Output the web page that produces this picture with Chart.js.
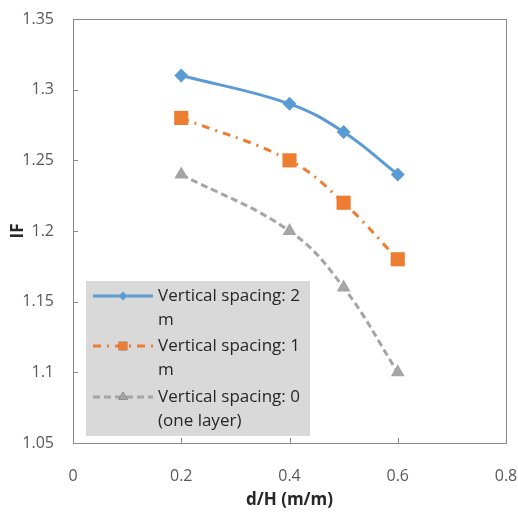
<!DOCTYPE html>
<html>
<head>
<meta charset="utf-8">
<script src="https://cdn.jsdelivr.net/npm/chart.js@4"></script>
<style>
  html,body{margin:0;padding:0;background:#fff;}
  #wrap{width:518px;height:514px;position:relative;}
</style>
</head>
<body>
<div id="wrap"><canvas id="c" width="518" height="514"></canvas></div>
<script>
// data
const xVals = [0.2, 0.4, 0.5, 0.6];
const spacing2 = [1.31, 1.29, 1.27, 1.24];
const spacing1 = [1.28, 1.25, 1.22, 1.18];
const spacing0 = [1.24, 1.20, 1.16, 1.10];
const seriesNames = ['Vertical spacing: 2 m', 'Vertical spacing: 1 m', 'Vertical spacing: 0 (one layer)'];
const xTicks = [0, 0.2, 0.4, 0.6, 0.8];
const yTicks = [1.05, 1.1, 1.15, 1.2, 1.25, 1.3, 1.35];

const pts = ys => xVals.map((x,i)=>({x, y: ys[i]}));
const FONT = "'Open Sans', sans-serif";
const AXIS = '#898989';

// frame + inward tick marks (Excel style)
const framePlugin = {
  id:'frame',
  beforeDatasetsDraw(chart){
    const {ctx, chartArea:a, scales:{x, y}} = chart;
    ctx.save();
    ctx.strokeStyle = AXIS; ctx.lineWidth = 1;
    ctx.strokeRect(Math.round(a.left)+0.5, Math.round(a.top)+0.5, Math.round(a.right-a.left), Math.round(a.bottom-a.top));
    ctx.beginPath();
    yTicks.slice(1,-1).forEach(v=>{ const p = Math.round(y.getPixelForValue(v))+0.5; ctx.moveTo(a.left, p); ctx.lineTo(a.left+5, p); });
    xTicks.slice(1,-1).forEach(v=>{ const p = Math.round(x.getPixelForValue(v))+0.5; ctx.moveTo(p, a.bottom); ctx.lineTo(p, a.bottom-5); });
    ctx.stroke();
    ctx.restore();
  }
};

// legend box inside the plot, text wrapped like Excel
const legendPlugin = {
  id:'boxLegend',
  afterDatasetsDraw(chart){
    const ctx = chart.ctx;
    const box = {x:86, y:281, w:224, h:155};
    ctx.save();
    ctx.fillStyle = '#d9d9d9';
    ctx.fillRect(box.x, box.y, box.w, box.h);
    ctx.font = '17px ' + FONT;
    ctx.textBaseline = 'middle';
    const tx = 158, maxW = box.x + box.w - tx - 3, lh = 24.5;
    const rows = [296, 346, 397];
    const markR = [4.5, 6, 5.5];
    chart.data.datasets.forEach((ds, i)=>{
      const cy = rows[i];
      ctx.strokeStyle = ds.borderColor; ctx.lineWidth = ds.borderWidth;
      ctx.setLineDash(ds.borderDash || []);
      ctx.beginPath(); ctx.moveTo(93, cy); ctx.lineTo(153, cy); ctx.stroke();
      ctx.setLineDash([]);
      Chart.helpers.drawPoint(ctx, {pointStyle: ds.pointStyle, radius: markR[i], borderWidth: 0}, 123, cy);
      ctx.fillStyle = ds.pointBackgroundColor; ctx.fill();
      // word wrap
      const words = seriesNames[i].split(' ');
      let line = '', lines = [];
      words.forEach(w=>{
        const t = line ? line + ' ' + w : w;
        if (ctx.measureText(t).width > maxW && line) { lines.push(line); line = w; } else line = t;
      });
      lines.push(line);
      ctx.fillStyle = '#262626';
      lines.forEach((l, k)=> ctx.fillText(l, tx, cy + k*lh));
    });
    ctx.restore();
  }
};

const noPad = s => { s.paddingLeft = 0; s.paddingRight = 0; s.paddingTop = 0; s.paddingBottom = 0; };

new Chart(document.getElementById('c'), {
  type:'line',
  data:{
    datasets:[
      {label:seriesNames[0], data:pts(spacing2), borderColor:'#5b9bd5', backgroundColor:'#5b9bd5',
       pointBackgroundColor:'#5b9bd5', borderWidth:3, pointStyle:'rectRot', pointRadius:7, pointBorderWidth:0, tension:0.4},
      {label:seriesNames[1], data:pts(spacing1), borderColor:'#ed7d31', backgroundColor:'#ed7d31',
       pointBackgroundColor:'#ed7d31', borderWidth:3, borderDash:[8,6,2,6], pointStyle:'rect', pointRadius:10, pointBorderWidth:0, tension:0.4},
      {label:seriesNames[2], data:pts(spacing0), borderColor:'#a5a5a5', backgroundColor:'#a5a5a5',
       pointBackgroundColor:'#a5a5a5', borderWidth:3, borderDash:[7,4], pointStyle:'triangle', pointRadius:8, pointBorderWidth:0, tension:0.4}
    ]
  },
  options:{
    responsive:false, animation:false,
    layout:{padding:{left:0, top:19, right:12, bottom:0}},
    plugins:{legend:{display:false}, tooltip:{enabled:false}},
    scales:{
      x:{type:'linear', min:0, max:0.8,
         afterBuildTicks: s=>{ s.ticks = xTicks.map(v=>({value:v})); },
         afterFit: s=>{ s.height = 71; noPad(s); },
         grid:{display:false, drawTicks:false}, border:{display:false},
         ticks:{padding:24, color:'#595959', font:{family:FONT, size:16}, callback:v=>String(+v.toFixed(2))},
         title:{display:true, text:'d/H (m/m)', color:'#262626', font:{family:FONT, size:17, weight:'bold'}, padding:{bottom:4}}},
      y:{min:1.05, max:1.35,
         afterBuildTicks: s=>{ s.ticks = yTicks.map(v=>({value:v})); },
         afterFit: s=>{ s.width = 73; noPad(s); },
         grid:{display:false, drawTicks:false}, border:{display:false},
         ticks:{padding:19, color:'#595959', font:{family:FONT, size:16}, callback:v=>String(+v.toFixed(2))},
         title:{display:true, text:'IF', color:'#262626', font:{family:FONT, size:17, weight:'bold'}, padding:{top:8}}}
    }
  },
  plugins:[framePlugin, legendPlugin]
});
</script>
</body>
</html>
